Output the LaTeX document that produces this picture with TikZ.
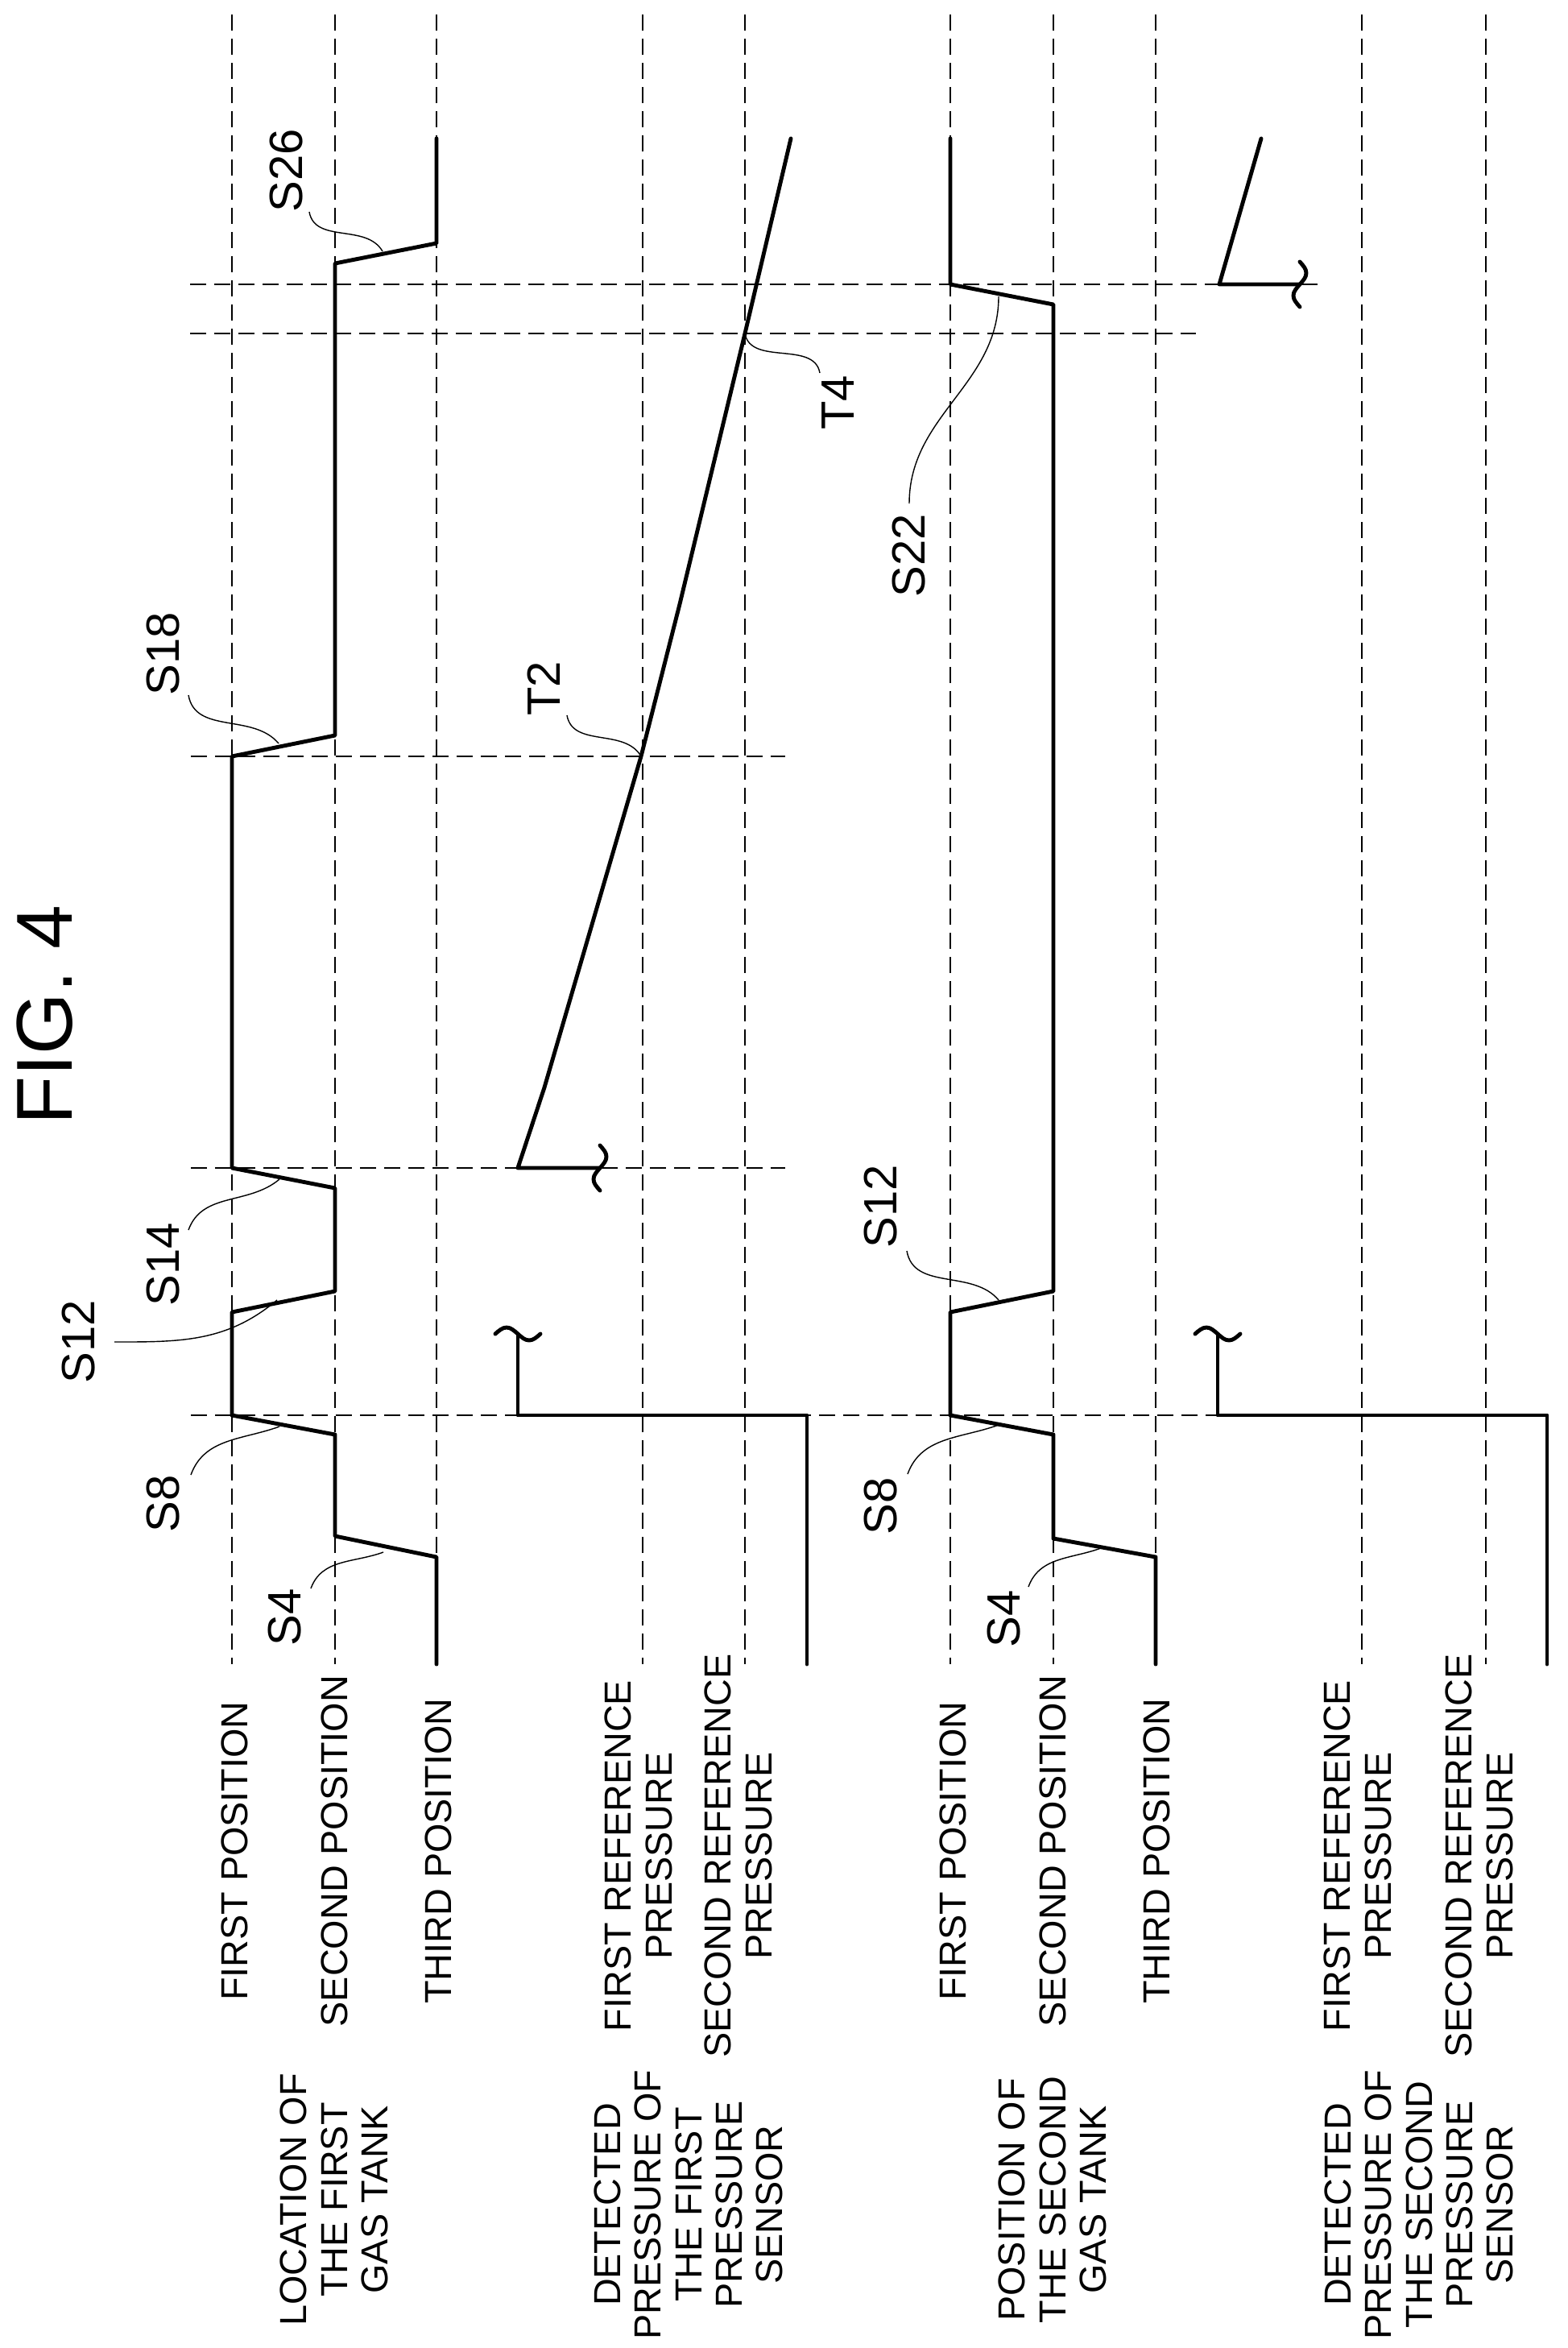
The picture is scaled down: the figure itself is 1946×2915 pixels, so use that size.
\documentclass[tikz,border=0pt]{standalone}
\usepackage{fontspec}
\setmainfont{Liberation Sans}
\usetikzlibrary{positioning, calc}
\tikzset{
    sig_line/.style={
        line width=1.4pt,
        line join=round,
        line cap=round
    },
    grid_line/.style={
        line width=0.5pt,
        dash pattern=on 2mm off 1mm
    },
    lead_line/.style={
        line width=0.4pt
    },
    axis_text/.style={
        rotate=90,
        align=center,
        inner sep=0pt,
        font=\fontsize{13.3}{14.3}\selectfont
    },
    step_text/.style={
        rotate=90,
        inner sep=0pt,
        font=\fontsize{16.5}{18}\selectfont
    }
}
\newcommand{\squig}[2]{%
    \draw[sig_line, shift={#1}, rotate=#2]
        (-28,0) sin (-14,-8) cos (0,0) sin (14,8) cos (28,0);}

\begin{document}
\begin{tikzpicture}[x=0.1mm, y=-0.1mm]
    \useasboundingbox (0,0) rectangle (1946,2915);
    \node[rotate=90, inner sep=0pt, font=\fontsize{28}{30}\selectfont] (title) at (56,1260) {FIG. 4};

    % level lines and time marks
    \foreach \x in {288,416,542,798,925,1180,1308,1435,1691,1845}
        \draw[grid_line] (\x,18) -- (\x,2066);
    \draw[grid_line] (237,1757) -- (1512,1757);
    \draw[grid_line] (237,1450) -- (975,1450);
    \draw[grid_line] (237,939) -- (975,939);
    \draw[grid_line] (236,414) -- (1485,414);
    \draw[grid_line] (236,353) -- (1640,353);

    % first gas tank
    \draw[sig_line] (542,2066) -- (542,1933) -- (416,1907) -- (416,1781)
        -- (288,1757) -- (288,1629) -- (416,1603) -- (416,1475) -- (288,1450)
        -- (288,939) -- (416,913) -- (416,327) -- (542,302) -- (542,172);
    % first pressure sensor
    \draw[sig_line] (1002,2066) -- (1002,1757) -- (643,1757) -- (643,1656);
    \squig{(643,1656)}{0}
    \draw[sig_line] (745,1450) -- (643,1450) -- (676,1350) -- (796,939)
        -- (844,750) -- (925,414) -- (982,172);
    \squig{(745,1450)}{90}
    % second gas tank
    \draw[sig_line] (1435,2066) -- (1435,1933) -- (1308,1910) -- (1308,1781)
        -- (1180,1757) -- (1180,1629) -- (1308,1603) -- (1308,378)
        -- (1180,353) -- (1180,172);
    % second pressure sensor
    \draw[sig_line] (1921,2066) -- (1921,1757) -- (1512,1757) -- (1512,1656);
    \squig{(1512,1656)}{0}
    \draw[sig_line] (1566,172) -- (1514,353) -- (1614,353);
    \squig{(1614,353)}{90}

    % step labels
    \coordinate (s4a) at (476,1927);
    \coordinate (s8a) at (347,1771);
    \coordinate (s12a) at (344,1614);
    \coordinate (s14a) at (347,1464);
    \coordinate (s18a) at (346,923);
    \coordinate (s26a) at (475,312);
    \coordinate (t2a) at (796,939);
    \coordinate (t4a) at (925,414);
    \coordinate (s4b) at (1367,1922);
    \coordinate (s8b) at (1240,1769);
    \coordinate (s12b) at (1240,1614);
    \coordinate (s22b) at (1240,368);

    \node[step_text] (s4) at (354,2008) {S4};
    \node[step_text] (s8) at (203,1867) {S8};
    \node[step_text] (s12) at (98,1666) {S12};
    \node[step_text] (s14) at (203,1570) {S14};
    \node[step_text] (s18) at (203,812) {S18};
    \node[step_text] (s26) at (356,212) {S26};
    \node[step_text] (t2) at (675,855) {T2};
    \node[step_text] (t4) at (1041,500) {T4};
    \node[step_text] (s4_2) at (1247,2010) {S4};
    \node[step_text] (s8_2) at (1094,1870) {S8};
    \node[step_text] (s12_2) at (1094,1498) {S12};
    \node[step_text] (s22) at (1129,690) {S22};

    \draw[lead_line] ($(s4)+(32,-36)$) to[out=70, in=200] (s4a);
    \draw[lead_line] ($(s8)+(34,-36)$) to[out=70, in=200] (s8a);
    \draw[lead_line] ($(s12)+(44,0)$) to[out=0, in=220] (s12a);
    \draw[lead_line] ($(s14)+(31,-43)$) to[out=70, in=220] (s14a);
    \draw[lead_line] ($(s18)+(31,51)$) to[out=-80, in=130] (s18a);
    \draw[lead_line] ($(s26)+(28,51)$) to[out=-80, in=120] (s26a);
    \draw[lead_line] ($(t2)+(29,33)$) to[out=-80, in=120] (t2a);
    \draw[lead_line] (t4a) to[out=-80, in=100] ($(t4)+(-23,-37)$);
    \draw[lead_line] ($(s4_2)+(30,-40)$) to[out=70, in=200] (s4b);
    \draw[lead_line] ($(s8_2)+(33,-40)$) to[out=70, in=200] (s8b);
    \draw[lead_line] ($(s12_2)+(32,55)$) to[out=-80, in=130] (s12b);
    \draw[lead_line] ($(s22)+(0,-65)$) to[out=90, in=-90] (s22b);

    % axis labels
    \node[axis_text] (pos1a) at (291,2298) {FIRST POSITION};
    \node[axis_text] (pos2a) at (415,2298) {SECOND POSITION};
    \node[axis_text] (pos3a) at (544,2298) {THIRD POSITION};
    \node[axis_text] (ref1a) at (793,2304) {FIRST REFERENCE\\PRESSURE};
    \node[axis_text] (ref2a) at (917,2304) {SECOND REFERENCE\\PRESSURE};
    \node[axis_text] (pos1b) at (1183,2298) {FIRST POSITION};
    \node[axis_text] (pos2b) at (1307,2298) {SECOND POSITION};
    \node[axis_text] (pos3b) at (1436,2298) {THIRD POSITION};
    \node[axis_text] (ref1b) at (1686,2304) {FIRST REFERENCE\\PRESSURE};
    \node[axis_text] (ref2b) at (1837,2304) {SECOND REFERENCE\\PRESSURE};

    \node[axis_text] (tank1) at (415,2731) {LOCATION OF\\THE FIRST\\GAS TANK};
    \node[axis_text] (sensor1) at (855,2737) {DETECTED\\PRESSURE OF\\THE FIRST\\PRESSURE\\SENSOR};
    \node[axis_text] (tank2) at (1307,2731) {POSITION OF\\THE SECOND\\GAS TANK};
    \node[axis_text] (sensor2) at (1762,2737) {DETECTED\\PRESSURE OF\\THE SECOND\\PRESSURE\\SENSOR};
\end{tikzpicture}
\end{document}
